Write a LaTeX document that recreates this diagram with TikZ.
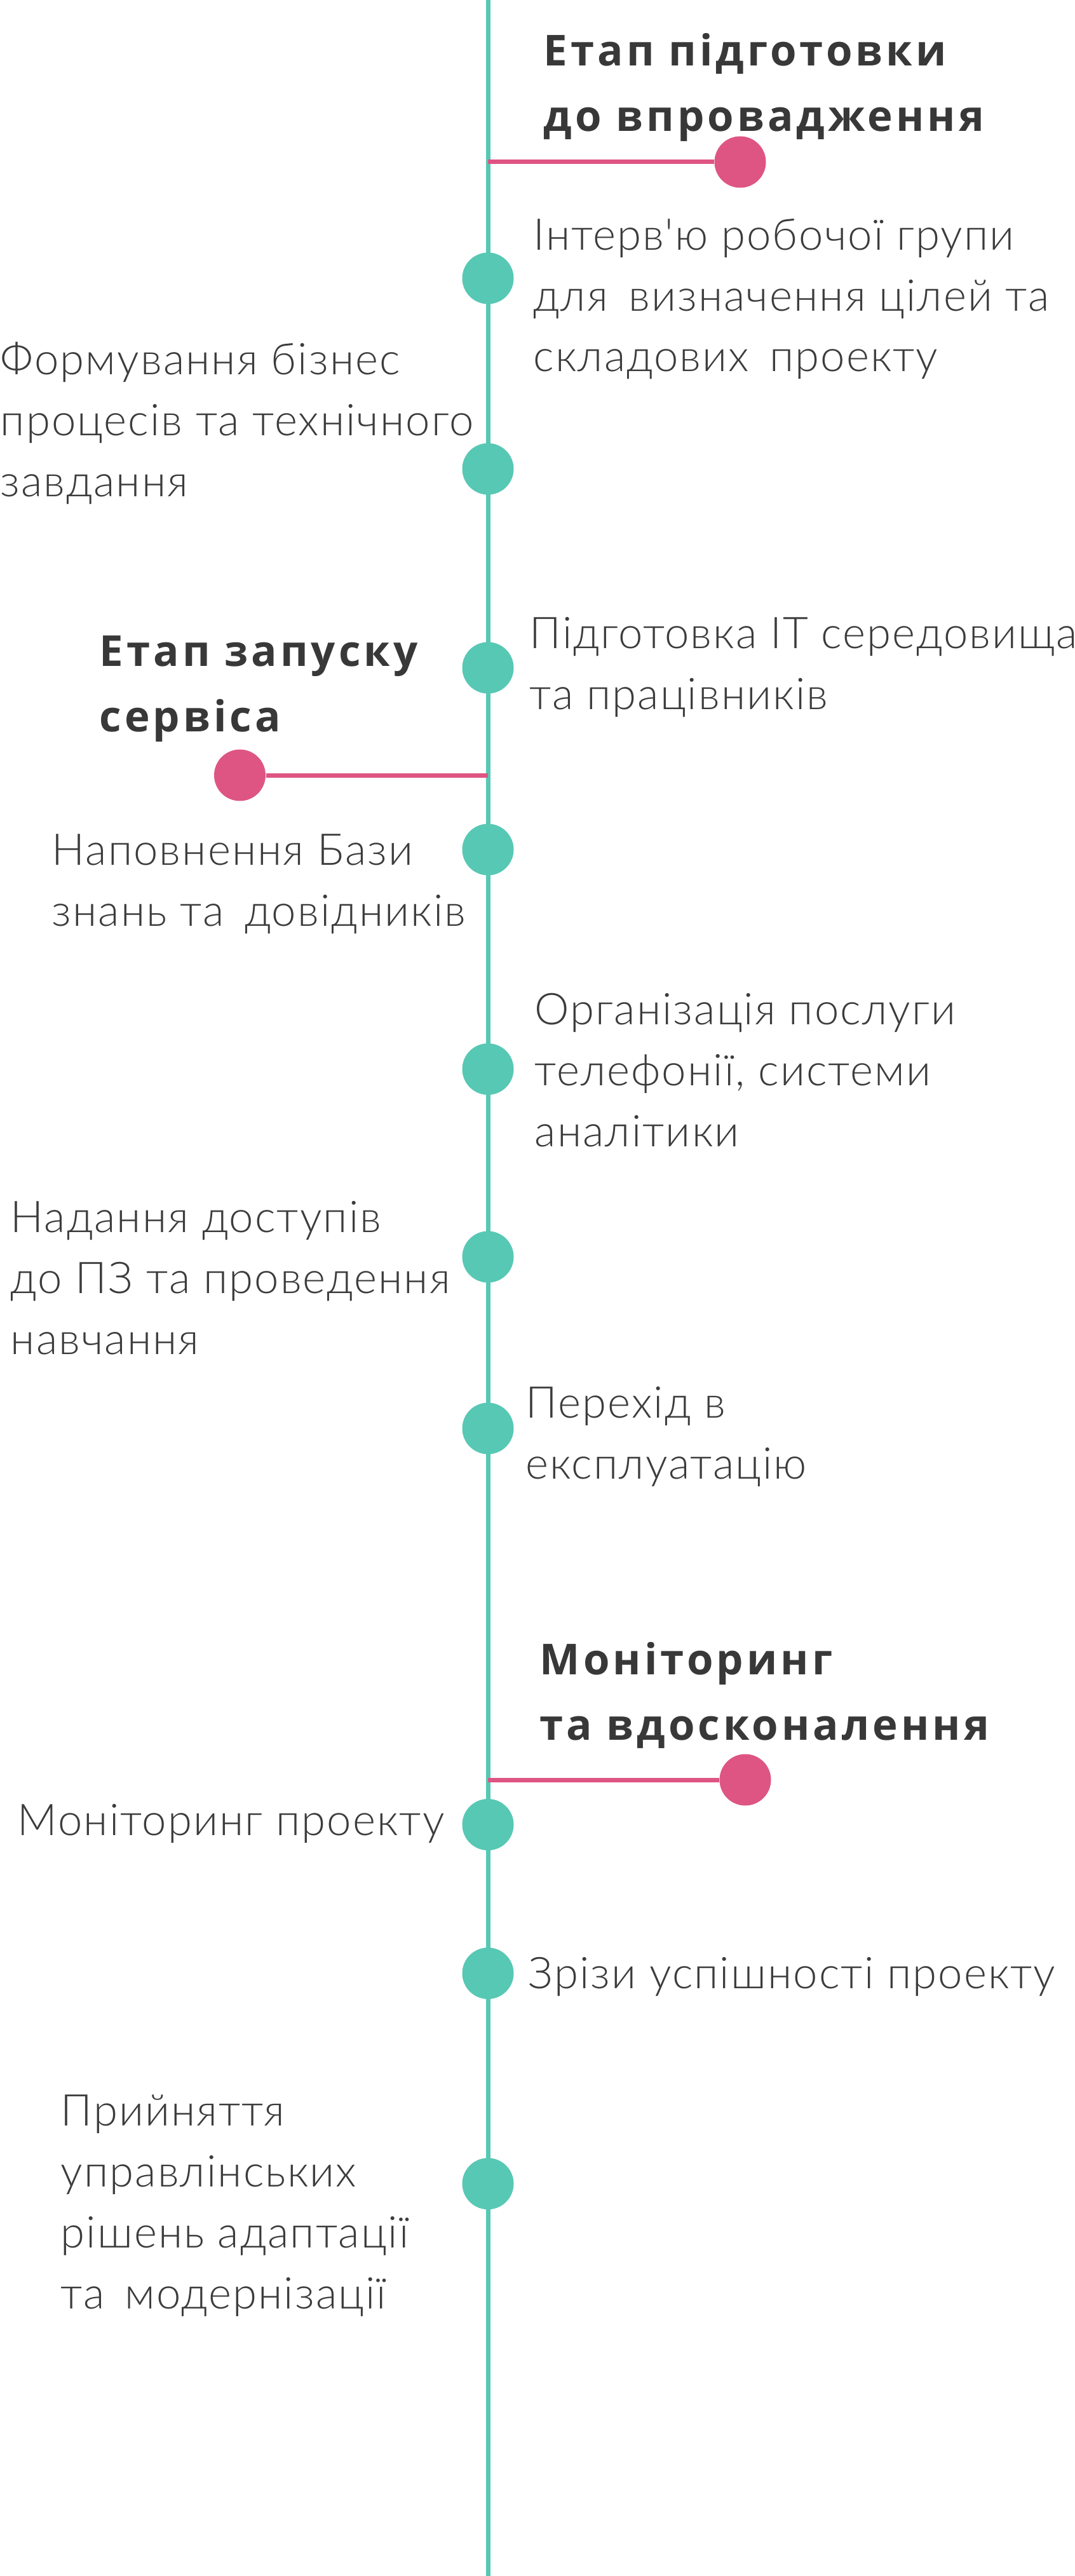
\documentclass[tikz,border=0pt]{standalone}
\usepackage{fontspec}
\usetikzlibrary{positioning}
\setmainfont{Lato Light}[LetterSpace=3, Ligatures=TeXOff]
\newfontfamily\headfont{Open Sans}[LetterSpace=7.5]
\definecolor{tealline}{HTML}{57C8B4}
\definecolor{pinkdot}{HTML}{DE5584}
\definecolor{textgray}{HTML}{3C3C3C}
\definecolor{headgray}{HTML}{383838}

\begin{document}
\begin{tikzpicture}[
  milestone/.style={circle, fill=tealline, inner sep=0pt, minimum size=8.1mm},
  stage/.style={circle, fill=pinkdot, inner sep=0pt, minimum size=8.1mm},
  axis/.style={draw=tealline, line width=0.7mm},
  stageedge/.style={draw=pinkdot, line width=0.7mm},
  txt/.style={anchor=base west, align=left, inner sep=0pt, text=textgray, font=\fontsize{19.6}{27.3}\selectfont},
  head/.style={anchor=base west, align=left, inner sep=0pt, text=headgray, font=\headfont\bfseries\fontsize{19.1}{29.3}\selectfont}
]
\useasboundingbox (0,0) rectangle (16.91,-40.54);

\coordinate (top) at (7.68,0);
\coordinate (bot) at (7.68,-40.54);
\draw[axis] (top) -- (bot);

\node[stage] (s1) at (11.65, -2.55) {};
\node[stage] (s2) at (3.775, -12.20) {};
\node[stage] (s3) at (11.73, -28.01) {};
\draw[stageedge] (s1 -| top) -- (s1);
\draw[stageedge] (s2 -| top) -- (s2);
\draw[stageedge] (s3 -| top) -- (s3);

\node[milestone] (m1) at (7.68, -4.38) {};
\node[milestone] (m2) at (7.68, -7.38) {};
\node[milestone] (m3) at (7.68, -10.51) {};
\node[milestone] (m4) at (7.68, -13.37) {};
\node[milestone] (m5) at (7.68, -16.825) {};
\node[milestone] (m6) at (7.68, -19.78) {};
\node[milestone] (m7) at (7.68, -22.48) {};
\node[milestone] (m8) at (7.68, -28.715) {};
\node[milestone] (m9) at (7.68, -31.055) {};
\node[milestone] (m10) at (7.68, -34.366) {};

% baselines below are those of the last line
\node[head] (h1) at (8.55, -2.067) {Етап підготовки\\до впровадження};
\node[head] (h2) at (1.56, -11.51) {Етап запуску\\сервіса};
\node[head] (h3) at (8.49, -27.38) {Моніторинг\\та вдосконалення};

\node[txt] (t1) at (8.39, -5.85) {Інтерв'ю робочої групи\\для\, визначення цілей та\\складових\, проекту};
\node[txt] (t2) at (0.00, -7.817) {Формування бізнес\\процесів та технічного\\завдання};
\node[txt] (t3) at (8.33, -11.16) {Підготовка IT середовища\\та працівників};
\node[txt] (t4) at (0.81, -14.57) {Наповнення Бази\\знань та\, довідників};
\node[txt] (t5) at (8.41, -18.04) {Організація послуги\\телефонії, системи\\аналітики};
\node[txt] (t6) at (0.16, -21.31) {Надання доступів\\до ПЗ та проведення\\навчання};
\node[txt] (t7) at (8.27, -23.27) {Перехід в\\експлуатацію};
\node[txt] (t8) at (0.27, -28.885) {Моніторинг проекту};
\node[txt] (t9) at (8.31, -31.29) {Зрізи успішності проекту};
\node[txt] (t10) at (0.95, -36.33) {Прийняття\\управлінських\\рішень адаптації\\та\, модернізації};

\end{tikzpicture}
\end{document}
